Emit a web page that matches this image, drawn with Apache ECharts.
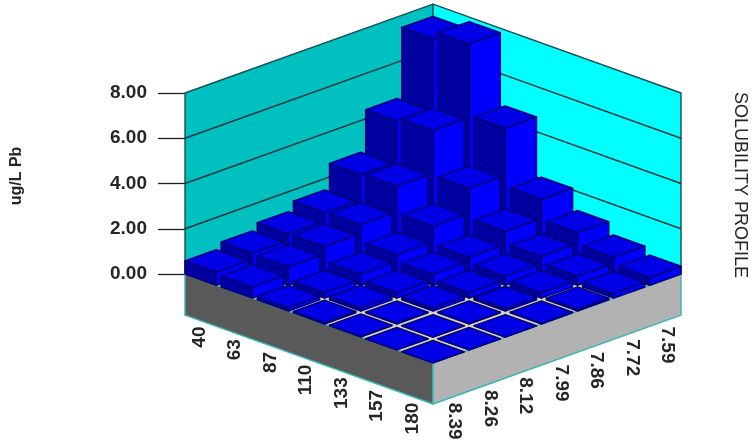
<!DOCTYPE html>
<html>
<head>
<meta charset="utf-8">
<title>Solubility profile</title>
<style>
  html, body { margin: 0; padding: 0; background: #fff; }
  #chart { width: 752px; height: 444px; }
</style>
<script src="https://cdn.jsdelivr.net/npm/echarts@6/dist/echarts.min.js"></script>
</head>
<body>
<div id="chart"></div>
<script>
// axis labels
const tempLabels = ['40', '63', '87', '110', '133', '157', '180'];
const phLabels = ['8.39', '8.26', '8.12', '7.99', '7.86', '7.72', '7.59'];
const wallTicks = [0, 2, 4, 6, 8];

// ug/L Pb, one list per temperature, in the order of phLabels
const pbAt40 = [0.58, 0.84, 1.12, 1.50, 2.60, 4.40, 7.46];
const pbAt63 = [0.49, 0.80, 1.14, 1.53, 2.66, 4.55, 7.80];
const pbAt87 = [0.15, 0.24, 0.48, 0.78, 1.46, 2.57, 4.65];
const pbAt110 = [0.06, 0.15, 0.24, 0.48, 0.66, 1.24, 2.07];
const pbAt133 = [0.03, 0.03, 0.15, 0.24, 0.40, 0.70, 1.17];
const pbAt157 = [0, 0, 0.03, 0.11, 0.24, 0.40, 0.66];
const pbAt180 = [0, 0, 0, 0.03, 0.08, 0.20, 0.34];
const pbRows = [pbAt40, pbAt63, pbAt87, pbAt110, pbAt133, pbAt157, pbAt180];

const FONT = '"Liberation Sans", Arial, sans-serif';
const CELLS = 7;
const SKEW = 0.561;      // floor depth per cell, in axis units
const SLAB = 1.82;       // slab thickness, in axis units
const BAR_FILL = 0.88;
const PITCH = (CELLS - BAR_FILL) / (CELLS - 1);   // outer bars sit flush with the floor edge

// back to front so nearer bars paint over farther ones
const barData = [];
for (let i = 0; i < CELLS; i++) {
    for (let j = CELLS - 1; j >= 0; j--) {
        barData.push([i, j, pbRows[i][j]]);
    }
}

// (i, j, height) -> pixel, through the chart's own x and y axes
function project(api, i, j, h) {
    return api.coord([i + j, h + (j - i) * SKEW]);
}

function poly(points, fill, stroke, width) {
    return {
        type: 'polygon',
        shape: { points: points },
        style: { fill: fill, stroke: stroke, lineWidth: width === undefined ? 1.5 : width, lineJoin: 'round' }
    };
}

function line(a, b, stroke, width) {
    return {
        type: 'line',
        shape: { x1: a[0], y1: a[1], x2: b[0], y2: b[1] },
        style: { stroke: stroke, lineWidth: width }
    };
}

function renderFrame(params, api) {
    const p = (i, j, h) => project(api, i, j, h);
    const n = CELLS;
    const top = wallTicks[wallTicks.length - 1];
    const children = [
        poly([p(0, 0, 0), p(0, n, 0), p(0, n, top), p(0, 0, top)], '#00c0c0', '#174f52', 1.4),
        poly([p(0, n, 0), p(n, n, 0), p(n, n, top), p(0, n, top)], '#00ffff', '#174f52', 1.4),
        poly([p(0, 0, 0), p(n, 0, 0), p(n, n, 0), p(0, n, 0)], '#d8d2b8', '#d8d2b8', 1),
        poly([p(0, 0, 0), p(n, 0, 0), p(n, 0, -SLAB), p(0, 0, -SLAB)], '#595959', '#35b5b5', 1.4),
        poly([p(n, 0, 0), p(n, n, 0), p(n, n, -SLAB), p(n, 0, -SLAB)], '#b2b2b2', '#35b5b5', 1.4)
    ];
    wallTicks.slice(1, -1).forEach(function (t) {
        children.push(line(p(0, 0, t), p(0, n, t), '#12363a', 1.4));
        children.push(line(p(0, n, t), p(n, n, t), '#12363a', 1.4));
    });
    return { type: 'group', children: children };
}

function renderBar(params, api) {
    const i = api.value(0);
    const j = api.value(1);
    const h = api.value(2);
    const i0 = i * PITCH, i1 = i0 + BAR_FILL;
    const j0 = j * PITCH, j1 = j0 + BAR_FILL;
    const p = (a, b, c) => project(api, a, b, c);
    const stroke = '#000078';
    return {
        type: 'group',
        children: [
            poly([p(i0, j0, 0), p(i1, j0, 0), p(i1, j0, h), p(i0, j0, h)], '#0000a0', stroke),
            poly([p(i1, j0, 0), p(i1, j1, 0), p(i1, j1, h), p(i1, j0, h)], '#0000ff', stroke),
            poly([p(i0, j0, h), p(i1, j0, h), p(i1, j1, h), p(i0, j1, h)], '#0000e6', stroke)
        ]
    };
}

function sideLabel(text, pos, rotation) {
    return {
        type: 'text',
        x: pos[0],
        y: pos[1],
        rotation: rotation,
        style: {
            text: text,
            fill: '#262626',
            font: 'bold 19px ' + FONT,
            align: rotation > 0 ? 'right' : 'left',
            verticalAlign: 'middle'
        }
    };
}

function renderLabels(params, api) {
    const k = api.value(0);
    const tempPos = project(api, k + 0.5, 0, -SLAB);
    const phPos = project(api, CELLS, k + 0.5, -SLAB);
    return {
        type: 'group',
        children: [
            sideLabel(tempLabels[k], [tempPos[0] - 3, tempPos[1] + 5], Math.PI / 2),
            sideLabel(phLabels[k], [phPos[0] + 4, phPos[1] + 5], -Math.PI / 2)
        ]
    };
}

const chart = echarts.init(document.getElementById('chart'), null, { renderer: 'canvas' });
chart.setOption({
    animation: false,
    backgroundColor: '#ffffff',
    grid: { left: 185, top: 93, width: 496, height: 181, containLabel: false },
    xAxis: { type: 'value', min: 0, max: CELLS * 2, show: false },
    yAxis: {
        type: 'value',
        min: wallTicks[0],
        max: wallTicks[wallTicks.length - 1],
        interval: 2,
        axisLine: { show: false },
        splitLine: { show: false },
        axisTick: { show: true, length: 27, lineStyle: { color: '#1e1e1e', width: 1.3 } },
        axisLabel: {
            margin: 38,
            color: '#262626',
            fontFamily: FONT,
            fontWeight: 'bold',
            fontSize: 19,
            formatter: function (v) { return v.toFixed(2); }
        }
    },
    graphic: [
        {
            type: 'text', x: 17, y: 176, rotation: Math.PI / 2,
            style: { text: 'ug/L Pb', font: 'bold 16px ' + FONT, fill: '#262626', align: 'center', verticalAlign: 'middle' }
        },
        {
            type: 'text', x: 740, y: 185, rotation: -Math.PI / 2,
            style: { text: 'SOLUBILITY PROFILE', font: '18px ' + FONT, fill: '#262626', align: 'center', verticalAlign: 'middle' }
        },
        {
            type: 'text', x: 297, y: 331,
            style: { text: 'o', font: 'bold 15px ' + FONT, fill: '#ffffff', align: 'center', verticalAlign: 'middle' }
        },
        {
            type: 'text', x: 310, y: 339,
            style: { text: 'F', font: 'bold 17px ' + FONT, fill: '#ffffff', align: 'center', verticalAlign: 'middle' }
        },
        {
            type: 'text', x: 557, y: 340,
            style: { text: 'pH', font: 'bold 18px ' + FONT, fill: '#262626', align: 'center', verticalAlign: 'middle' }
        }
    ],
    series: [
        { type: 'custom', name: 'frame', data: [[0]], renderItem: renderFrame, silent: true, clip: false, z: 1 },
        { type: 'custom', name: 'Pb', data: barData, renderItem: renderBar, silent: true, clip: false, z: 2,
          encode: { x: 0, y: 2 } },
        { type: 'custom', name: 'labels', data: tempLabels.map((t, k) => [k]), renderItem: renderLabels, silent: true, clip: false, z: 3 }
    ]
});
</script>
</body>
</html>
